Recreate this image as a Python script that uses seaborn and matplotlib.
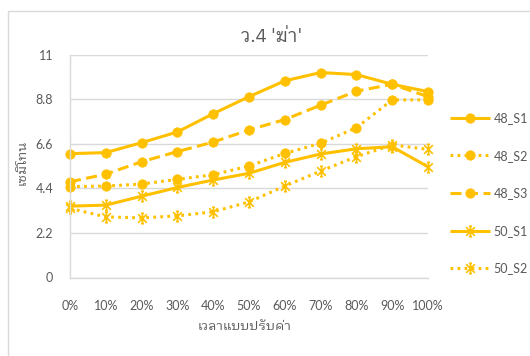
import matplotlib
matplotlib.use("Agg")
import matplotlib.pyplot as plt
from matplotlib import font_manager
from matplotlib.path import Path
from matplotlib.patches import Rectangle
import seaborn as sns
import pandas as pd

# ---- data ----
x_labels = ["0%", "10%", "20%", "30%", "40%", "50%", "60%", "70%", "80%", "90%", "100%"]
s48_1 = [6.11, 6.16, 6.65, 7.18, 8.08, 8.92, 9.70, 10.11, 10.01, 9.53, 9.17]
s48_2 = [4.48, 4.51, 4.61, 4.84, 5.07, 5.50, 6.12, 6.62, 7.39, 8.76, 8.76]
s48_3 = [4.72, 5.10, 5.71, 6.21, 6.68, 7.28, 7.79, 8.50, 9.19, 9.53, 8.92]
s50_1 = [3.52, 3.57, 4.01, 4.44, 4.81, 5.14, 5.68, 6.09, 6.35, 6.45, 5.46]
s50_2 = [3.41, 2.99, 2.94, 3.04, 3.24, 3.73, 4.51, 5.25, 5.96, 6.54, 6.32]
series_names = ["48_S1", "48_S2", "48_S3", "50_S1", "50_S2"]
y_ticks = [0, 2.2, 4.4, 6.6, 8.8, 11]
y_tick_labels = ["0", "2.2", "4.4", "6.6", "8.8", "11"]
title_text = "ว.4 'ฆ่า'"
x_title = "เวลาแบบปรับค่า"
y_title = "เซมิโทน"


def find_thai_font():
    try:
        from fontTools.ttLib import TTFont
    except Exception:
        return None
    best = None
    for f in font_manager.fontManager.ttflist:
        try:
            tt = TTFont(f.fname, fontNumber=0, lazy=True)
            cmap = tt.getBestCmap()
            if cmap and ord("ว") in cmap and ord("ฆ") in cmap:
                if best is None or "Thai" in f.name:
                    best = f.name
                    if "Thai" in f.name and "Looped" in f.name:
                        break
        except Exception:
            continue
    return best


sns.set_theme(style="white")
thai = find_thai_font()
latin = "Lato"
fam = [thai, "DejaVu Sans"] if thai else ["DejaVu Sans"]
plt.rcParams["font.family"] = [latin, "DejaVu Sans"]

W, H = 530, 356
fig = plt.figure(figsize=(W / 100, H / 100), dpi=100)
ax = fig.add_axes([70 / W, (H - 277.5) / H, (428 - 70) / W, (277.5 - 54.5) / H])

gold = "#FFC000"
grey_txt = "#595959"
grid_c = "#D9D9D9"

# asterisk-style marker: an X crossed by a capped vertical bar
star = Path(
    [(-1, -1), (1, 1), (-1, 1), (1, -1), (0, -1.2), (0, 1.2),
     (-0.35, 1.2), (0.35, 1.2), (-0.35, -1.2), (0.35, -1.2)],
    [Path.MOVETO, Path.LINETO, Path.MOVETO, Path.LINETO, Path.MOVETO, Path.LINETO,
     Path.MOVETO, Path.LINETO, Path.MOVETO, Path.LINETO],
)

dotted = (0, (0.9, 1.4))
dashed = (0, (3.6, 1.8))
styles = {
    "48_S1": dict(ls="-", marker="o"),
    "48_S2": dict(ls=dotted, marker="o"),
    "48_S3": dict(ls=dashed, marker="o"),
    "50_S1": dict(ls="-", marker=star),
    "50_S2": dict(ls=dotted, marker=star),
}
values = {"48_S1": s48_1, "48_S2": s48_2, "48_S3": s48_3, "50_S1": s50_1, "50_S2": s50_2}

pos = list(range(len(x_labels)))
for name in series_names:
    st = styles[name]
    df = pd.DataFrame({"x": pos, "y": values[name]})
    is_star = st["marker"] is star
    sns.lineplot(
        data=df, x="x", y="y", ax=ax, color=gold, linestyle=st["ls"], lw=2.2,
        marker=st["marker"], markersize=7.5 if is_star else 6.8,
        markeredgecolor=gold, markerfacecolor=gold,
        markeredgewidth=1.2 if is_star else 0.5,
        label=name, clip_on=False, solid_capstyle="butt", dash_capstyle="butt",
    )

ax.set_xlim(0, 10)
ax.set_ylim(0, 11)
ax.set_xticks(pos)
ax.set_xticklabels(x_labels)
ax.set_yticks(y_ticks)
ax.set_yticklabels(y_tick_labels)
ax.grid(axis="y", color=grid_c, lw=1.0)
ax.grid(axis="x", visible=False)
ax.set_axisbelow(True)
for s in ["top", "right"]:
    ax.spines[s].set_visible(False)
for s in ["left", "bottom"]:
    ax.spines[s].set_color(grid_c)
    ax.spines[s].set_linewidth(1.0)
ax.tick_params(axis="both", which="major", direction="out", length=4, width=1,
               color=grid_c, labelcolor=grey_txt, labelsize=9)
ax.tick_params(axis="x", pad=12)
ax.tick_params(axis="y", pad=8)
ax.set_xlabel("")
ax.set_ylabel("")

fig.text(272 / W, 1 - 37 / H, title_text, ha="center", va="center", fontsize=13.5,
         color=grey_txt, family=fam)
fig.text(245 / W, 1 - 326 / H, x_title, ha="center", va="center", fontsize=9.5,
         color=grey_txt, family=fam)
fig.text(22 / W, 1 - 162 / H, y_title, ha="center", va="center", fontsize=9.5,
         color=grey_txt, family=fam, rotation=90)

leg = ax.legend(
    loc="upper left", bbox_to_anchor=(450 / W, 1 - 112 / H), bbox_transform=fig.transFigure,
    frameon=False, fontsize=9, handlelength=3.2, handletextpad=0.3, labelspacing=2.05,
    borderaxespad=0, borderpad=0,
)
for t in leg.get_texts():
    t.set_color(grey_txt)

fig.patches.append(Rectangle((8 / W, -0.1), 1.2, 1 - 11 / H + 0.1, transform=fig.transFigure,
                             fill=False, edgecolor=grid_c, lw=1.0, zorder=0))

fig.savefig("out.png", dpi=100)
